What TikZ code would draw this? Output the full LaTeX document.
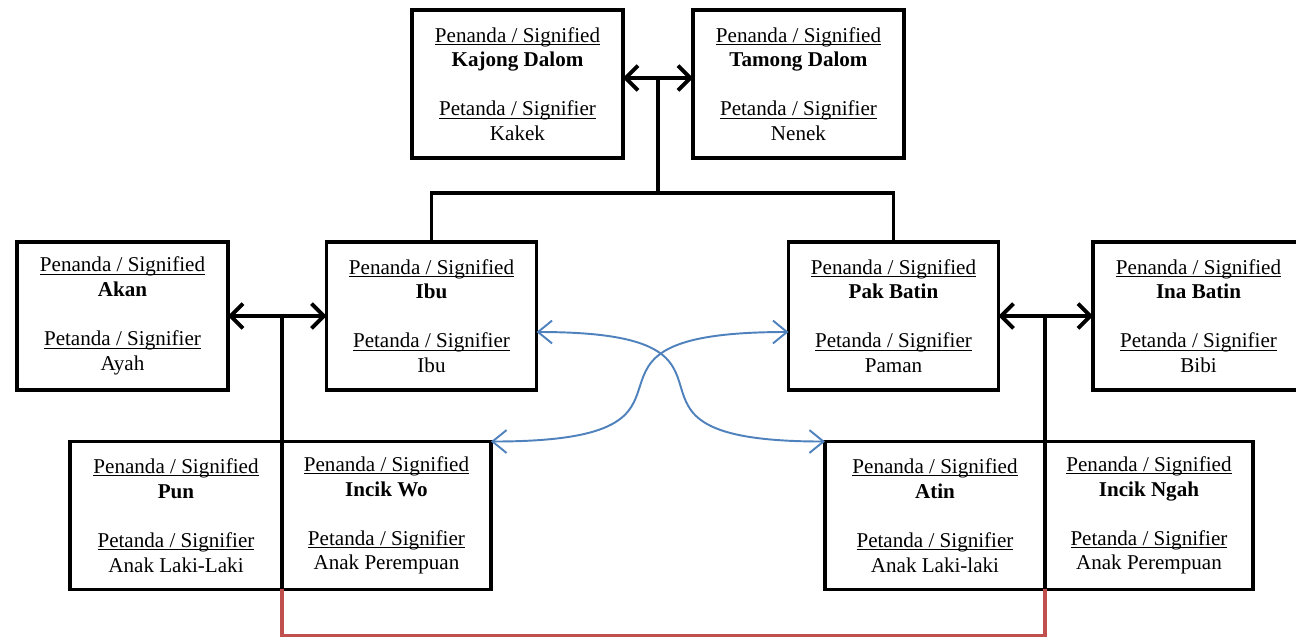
\documentclass[tikz,border=0pt]{standalone}
\usepackage{fontspec}
\setmainfont{Liberation Serif}
\usetikzlibrary{arrows.meta,positioning}
\definecolor{crossblue}{RGB}{79,129,189}
\definecolor{linkred}{RGB}{192,80,77}
\newsavebox{\kinulbox}
\newcommand{\kinul}[1]{\sbox{\kinulbox}{#1}\rlap{\rule[-1.6pt]{\wd\kinulbox}{0.55pt}}\usebox{\kinulbox}}
\newcommand{\kinlabel}[2]{\kinul{Penanda / Signified}\\\textbf{#1}\\[14pt]\kinul{Petanda / Signifier}\\#2}

\begin{document}
\begin{tikzpicture}[x=0.02cm,y=-0.02cm,
  kinbox/.style={draw,line width=2.2pt,outer sep=0pt,inner sep=0pt,minimum width=4.22cm,minimum height=2.96cm,align=center,font=\fontsize{12}{14}\selectfont},
  kinline/.style={line width=2.2pt},
  kinarrow/.style={line width=2.2pt,<->,>={Straight Barb[length=7pt,width=14pt]}},
  crossarrow/.style={draw=crossblue,line width=1.1pt,<->,>={Straight Barb[length=8pt,width=13pt]}},
  redlink/.style={draw=linkred,line width=2.2pt}]
\useasboundingbox (0,0) rectangle (1296,640);
% grandparents
\node[kinbox] (kajong) at (517.5,84) {\kinlabel{Kajong Dalom}{Kakek}};
\node[kinbox] (tamong) at (798.5,84) {\kinlabel{Tamong Dalom}{Nenek}};
% parents and in-laws
\node[kinbox] (akan) at (122.5,316) {\kinlabel{Akan}{Ayah}};
\node[kinbox,minimum width=4.2cm] (ibu) at (431.5,316) {\kinlabel{Ibu}{Ibu}};
\node[kinbox,minimum width=4.2cm] (pakbatin) at (893.5,316) {\kinlabel{Pak Batin}{Paman}};
\node[kinbox] (inabatin) at (1198.5,316) {\kinlabel{Ina Batin}{Bibi}};
% children
\node[kinbox,minimum width=4.24cm] (pun) at (176,515.5) {\kinlabel{Pun}{Anak Laki-Laki}};
\node[kinbox,minimum width=4.18cm,right=0pt of pun] (incikwo) {\kinlabel{Incik Wo}{Anak Perempuan}};
\node[kinbox,minimum width=4.4cm] (atin) at (935,515.5) {\kinlabel{Atin}{Anak Laki-laki}};
\node[kinbox,minimum width=4.16cm,right=0pt of atin] (incikngah) {\kinlabel{Incik Ngah}{Anak Perempuan}};
% marriages and descent
\draw[kinarrow] ([yshift=0.12cm]kajong.east) -- coordinate (topmid) ([yshift=0.12cm]tamong.west);
\draw[kinline] (topmid) -- ++(0,115) coordinate (topbar);
\draw[kinline] (ibu.north) |- (topbar) -| (pakbatin.north);
\draw[kinarrow] (akan.east) -- (ibu.west);
\draw[kinline] (pun.north east) -- (pun.north east |- ibu.west);
\draw[kinarrow] (pakbatin.east) -- (inabatin.west);
\draw[kinline] (atin.north east) -- (atin.north east |- pakbatin.east);
% cross relations
\draw[crossarrow] ([yshift=-0.32cm]ibu.east) to[out=0,in=180,looseness=2.1] (atin.north west);
\draw[crossarrow] ([yshift=-0.32cm]pakbatin.west) to[out=180,in=0,looseness=2.1] (incikwo.north east);
\draw[redlink] (incikwo.south west) -- ++(0,46) -| (atin.south east);
\end{tikzpicture}
\end{document}
